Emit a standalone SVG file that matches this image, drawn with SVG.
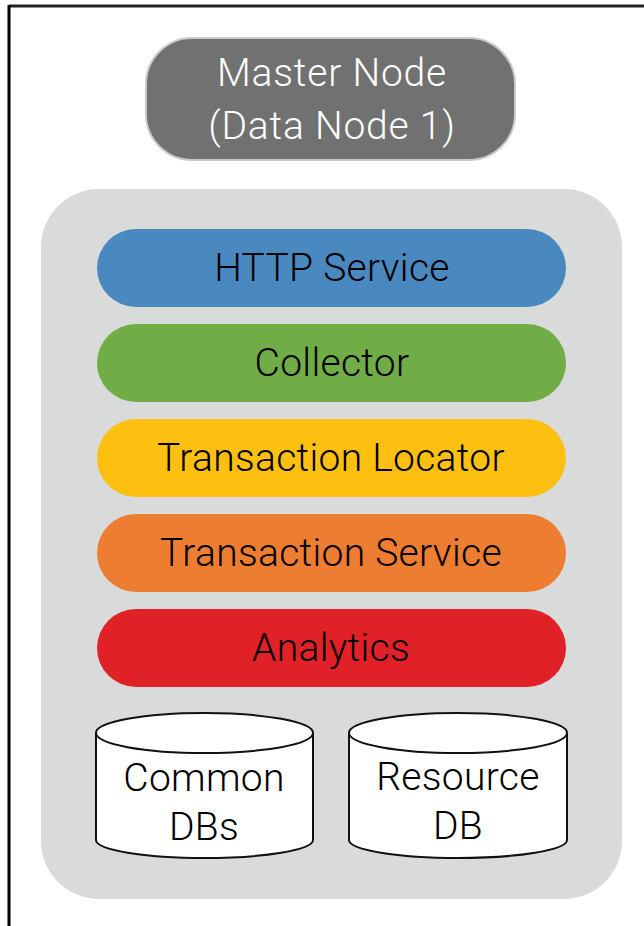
<svg xmlns="http://www.w3.org/2000/svg" width="644" height="926" viewBox="0 0 644 926">
  <style>
    .lbl { font-family: Roboto, "Liberation Sans", sans-serif; font-weight: 300; font-size: 39px; letter-spacing: 0.3px; text-anchor: middle; fill: #000; }
    .mlbl { font-family: Roboto, "Liberation Sans", sans-serif; font-weight: 300; font-size: 39px; letter-spacing: 0.8px; text-anchor: middle; fill: #ffffff; }
    .bar { stroke: none; }
    .cyl { fill: #ffffff; stroke: #111; stroke-width: 2; }
  </style>
  <rect x="0" y="0" width="644" height="926" fill="#ffffff"/>
  <g id="frame">
    <line x1="9" y1="6" x2="644" y2="6" stroke="#222" stroke-width="3"/>
    <line x1="9" y1="5" x2="9" y2="926" stroke="#000" stroke-width="3"/>
  </g>
  <g id="master-node">
    <rect x="146" y="38" width="369" height="122" rx="46" fill="#717171" stroke="#c9c9c9" stroke-width="2"/>
    <text class="mlbl" x="332" y="86">Master Node</text>
    <text class="mlbl" x="332" y="139">(Data Node 1)</text>
  </g>
  <g id="container">
    <rect x="41" y="189" width="581" height="710" rx="58" fill="#d9dada"/>
  </g>
  <g id="http-service">
    <rect class="bar" x="97" y="229" width="469" height="78" rx="39" fill="#4a89c0"/>
    <text class="lbl" x="332" y="281">HTTP Service</text>
  </g>
  <g id="collector">
    <rect class="bar" x="97" y="324" width="469" height="78" rx="39" fill="#70ad47"/>
    <text class="lbl" x="332" y="376">Collector</text>
  </g>
  <g id="transaction-locator">
    <rect class="bar" x="97" y="419" width="469" height="78" rx="39" fill="#fdc010"/>
    <text class="lbl" x="331" y="471">Transaction Locator</text>
  </g>
  <g id="transaction-service">
    <rect class="bar" x="97" y="514" width="469" height="78" rx="39" fill="#ed7d31"/>
    <text class="lbl" x="331" y="566">Transaction Service</text>
  </g>
  <g id="analytics">
    <rect class="bar" x="97" y="609" width="469" height="78" rx="39" fill="#e02128"/>
    <text class="lbl" x="331" y="661">Analytics</text>
  </g>
  <g id="common-dbs">
    <path class="cyl" d="M96,733 L96,840 A108.5,18 0 0 0 313,840 L313,733"/>
    <ellipse class="cyl" cx="204.5" cy="733" rx="108.5" ry="20"/>
    <text class="lbl" x="204" y="791">Common</text>
    <text class="lbl" x="204" y="840">DBs</text>
  </g>
  <g id="resource-db">
    <path class="cyl" d="M349,733 L349,840 A109,18 0 0 0 567,840 L567,733"/>
    <ellipse class="cyl" cx="458" cy="733" rx="109" ry="20"/>
    <text class="lbl" x="458" y="790">Resource</text>
    <text class="lbl" x="458" y="839">DB</text>
  </g>
  <g id="connectors"/>
</svg>
